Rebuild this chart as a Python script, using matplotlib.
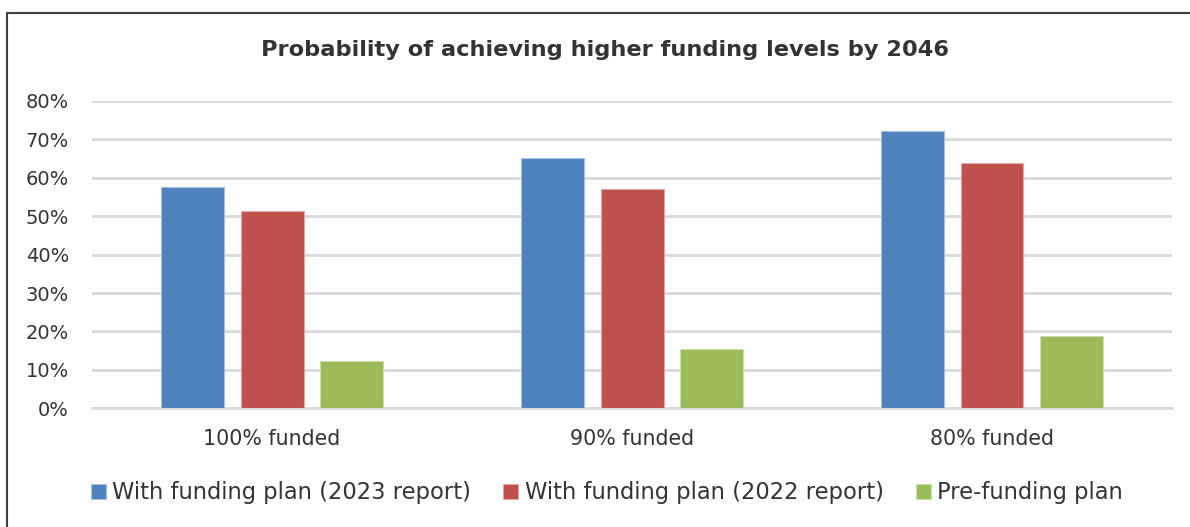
import matplotlib.pyplot as plt
import numpy as np
from matplotlib.patches import Rectangle
from matplotlib.ticker import PercentFormatter

## data ##
categories = ['100% funded', '90% funded', '80% funded']
series_names = ['With funding plan (2023 report)',
                'With funding plan (2022 report)',
                'Pre-funding plan']
plan_2023 = [57.6, 65.1, 72.1]
plan_2022 = [51.3, 57.1, 63.9]
pre_funding = [12.4, 15.4, 18.8]

colors = ['#4F81BD', '#C0504D', '#9BBB59']
edges = ['#A7C0DE', '#DFA8A6', '#CDDDAC']
text_color = '#333333'

plt.rcParams['font.family'] = ['DejaVu Sans']

fig = plt.figure(figsize=(11.9, 5.27), dpi=100)
ax = fig.add_axes([92 / 1190, 1 - 408.3 / 527, 1080 / 1190, 307.3 / 527])

x = np.arange(len(categories))
width = 0.175
step = 0.222
for i, (vals, name) in enumerate(zip([plan_2023, plan_2022, pre_funding], series_names)):
    ax.bar(x + (i - 1) * step, vals, width, color=colors[i], edgecolor=edges[i],
           linewidth=0.8, label=name, zorder=3)

ax.set_xlim(-0.5, 2.5)
ax.set_ylim(0, 80)
ax.set_yticks(np.arange(0, 81, 10))
ax.yaxis.set_major_formatter(PercentFormatter(decimals=0))
ax.grid(axis='y', color='#D9D9D9', linewidth=2, zorder=0)
ax.axhline(0, color='#D9D9D9', linewidth=2, zorder=1, clip_on=False)
ax.set_axisbelow(True)
for s in ax.spines.values():
    s.set_visible(False)
ax.tick_params(axis='both', length=0, labelsize=14, labelcolor=text_color)
ax.tick_params(axis='y', pad=16.5)
ax.tick_params(axis='x', labelsize=14.8, pad=15)
ax.set_xticks(x)
ax.set_xticklabels(categories)

fig.text(0.508, 1 - 50 / 527, 'Probability of achieving higher funding levels by 2046',
         ha='center', va='center', fontsize=16.2, fontweight='bold', color=text_color)

leg = fig.legend(loc='center', bbox_to_anchor=(0.51, 1 - 493 / 527), ncol=3,
                 frameon=False, fontsize=16.3, handlelength=0.66, handleheight=0.66,
                 handletextpad=0.3, columnspacing=1.4)
for t in leg.get_texts():
    t.set_color(text_color)

# chart frame, left and top edges only
fig.add_artist(Rectangle((6.5 / 1190, -0.1), 1.2, 1.1 - 13 / 527,
                         transform=fig.transFigure, fill=False,
                         edgecolor='#404040', linewidth=1.5))

fig.savefig('out.png', dpi=100)
